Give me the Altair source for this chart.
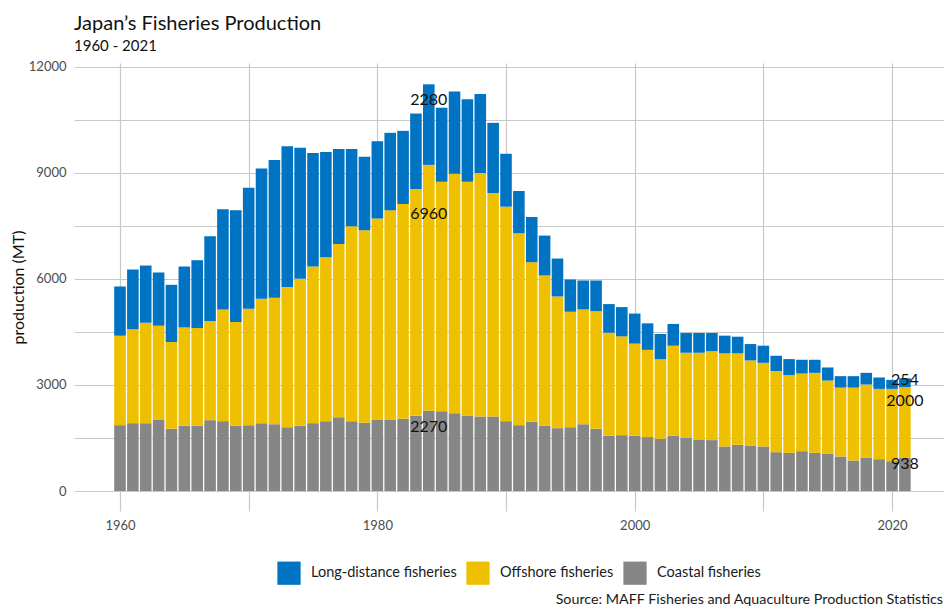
import altair as alt
import pandas as pd

years = list(range(1960, 2022))
coastal = [1864, 1920, 1920, 2024, 1760, 1845, 1845, 2005, 1977, 1845,
           1864, 1920, 1892, 1807, 1845, 1920, 1977, 2089, 1977, 1929,
           2024, 2024, 2042, 2127, 2270, 2259, 2202, 2137, 2108, 2108,
           1977, 1864, 1958, 1845, 1779, 1807, 1892, 1760, 1562, 1581,
           1562, 1525, 1478, 1563, 1497, 1459, 1440, 1260, 1307, 1288,
           1260, 1099, 1080, 1127, 1080, 1061, 976, 862, 947, 900,
           843, 938]
offshore = [2531, 2654, 2842, 2654, 2457, 2786, 2767, 2805, 3162, 2936,
            3294, 3520, 3576, 3963, 4160, 4433, 4640, 4904, 5515, 5450,
            5685, 5920, 6080, 6419, 6960, 6494, 6777, 6616, 6890, 6325,
            6070, 5430, 4517, 4254, 3727, 3266, 3247, 3332, 2918, 2796,
            2610, 2470, 2255, 2549, 2416, 2454, 2520, 2634, 2587, 2407,
            2368, 2293, 2198, 2198, 2264, 2065, 1951, 2065, 2066, 1990,
            2047, 2000]
long_distance = [1393, 1694, 1619, 1506, 1618, 1722, 1920, 2400, 2833, 3163,
                 3426, 3690, 3897, 3990, 3708, 3210, 2974, 2683, 2184, 2080,
                 2188, 2193, 2071, 2137, 2280, 2090, 2325, 2334, 2240, 1986,
                 1497, 1196, 1280, 1129, 1073, 913, 819, 866, 810, 828,
                 850, 750, 710, 616, 559, 559, 512, 502, 473, 464,
                 484, 435, 455, 389, 370, 370, 323, 323, 331, 322,
                 255, 254]

series_names = ["Long-distance fisheries", "Offshore fisheries", "Coastal fisheries"]
series_colors = ["#0073C2", "#EFC000", "#868686"]
stack_order = {"Coastal fisheries": 0, "Offshore fisheries": 1, "Long-distance fisheries": 2}
label_years = [1984, 2021]
caption = "Source: MAFF Fisheries and Aquaculture Production Statistics"

rows = []
for i, yr in enumerate(years):
    for name, vals in (("Coastal fisheries", coastal),
                       ("Offshore fisheries", offshore),
                       ("Long-distance fisheries", long_distance)):
        rows.append({"year": yr, "series": name, "value": vals[i], "order": stack_order[name]})
df = pd.DataFrame(rows)

FONT = "Lato"
W, H = 870, 448

x_scale = alt.Scale(domain=[1956.425, 2024.04], nice=False, zero=False)
y_scale = alt.Scale(domain=[-566, 12113], nice=False, zero=False)

x_axis = alt.Axis(values=list(range(1960, 2030, 10)), format="d",
                  labelExpr="datum.value % 20 == 0 ? datum.label : ''",
                  grid=True, ticks=False, domain=False, labelPadding=8)
y_axis = alt.Axis(values=list(range(0, 12001, 1500)), format="d",
                  labelExpr="datum.value % 3000 == 0 ? datum.label : ''",
                  grid=True, ticks=False, domain=False, labelPadding=8,
                  titleX=-48, titleY=H / 2, titleAngle=270, titleAlign="center",
                  titleBaseline="bottom")

stack_tf = dict(stack="value", groupby=["year"], as_=["y0", "y1"],
                sort=[alt.SortField("order", order="ascending")])

bars = alt.Chart(df).transform_stack(**stack_tf).transform_calculate(
    xa="datum.year - 0.45", xb="datum.year + 0.45"
).mark_bar().encode(
    x=alt.X("xa:Q", scale=x_scale, axis=x_axis, title=None),
    x2="xb:Q",
    y=alt.Y("y0:Q", scale=y_scale, axis=y_axis, title="production (MT)"),
    y2="y1:Q",
    color=alt.Color("series:N",
                    scale=alt.Scale(domain=series_names, range=series_colors),
                    legend=alt.Legend(title=None, orient="none", direction="horizontal",
                                      legendX=203, legendY=498,
                                      symbolType="square", symbolSize=540,
                                      symbolStrokeWidth=0, symbolOpacity=1,
                                      labelFont=FONT, labelFontSize=14.5,
                                      labelColor="#1a1a1a", labelOffset=10,
                                      columnPadding=9, padding=0)),
)

labels = alt.Chart(df).transform_filter(
    alt.FieldOneOfPredicate(field="year", oneOf=label_years)
).transform_stack(**stack_tf).transform_calculate(
    ly="datum.y0 + 0.8 * (datum.y1 - datum.y0)"
).mark_text(font=FONT, fontSize=16, color="#111111", align="center", baseline="middle").encode(
    x=alt.X("year:Q", scale=x_scale, axis=x_axis, title=None),
    y=alt.Y("ly:Q", scale=y_scale, axis=y_axis, title="production (MT)"),
    text=alt.Text("value:Q", format="d"),
)

cap = alt.Chart(pd.DataFrame({"t": [caption]})).mark_text(
    font=FONT, fontSize=14.3, color="#1a1a1a", align="right", baseline="middle"
).encode(x=alt.value(W - 1), y=alt.value(537), text="t:N")

chart = alt.layer(bars, labels, cap).properties(
    width=W, height=H,
    background="white",
    title=alt.TitleParams(text="Japan’s Fisheries Production", subtitle="1960 - 2021",
                          anchor="start", frame="group", font=FONT, fontSize=20,
                          fontWeight="normal", color="#111111",
                          subtitleFont=FONT, subtitleFontSize=15, subtitleColor="#111111",
                          offset=7, subtitlePadding=5),
    autosize=alt.AutoSizeParams(type="none"),
    padding={"left": 66, "top": 55, "right": 0, "bottom": 96},
).configure_view(stroke=None).configure_axis(
    labelFont=FONT, labelFontSize=13, labelColor="#4d4d4d",
    titleFont=FONT, titleFontSize=16, titleFontWeight="normal", titleColor="#111111",
    gridColor="#c8c8c8", gridWidth=1.2,
)

chart.save("out.html", embed_options={"renderer": "svg", "actions": False})
